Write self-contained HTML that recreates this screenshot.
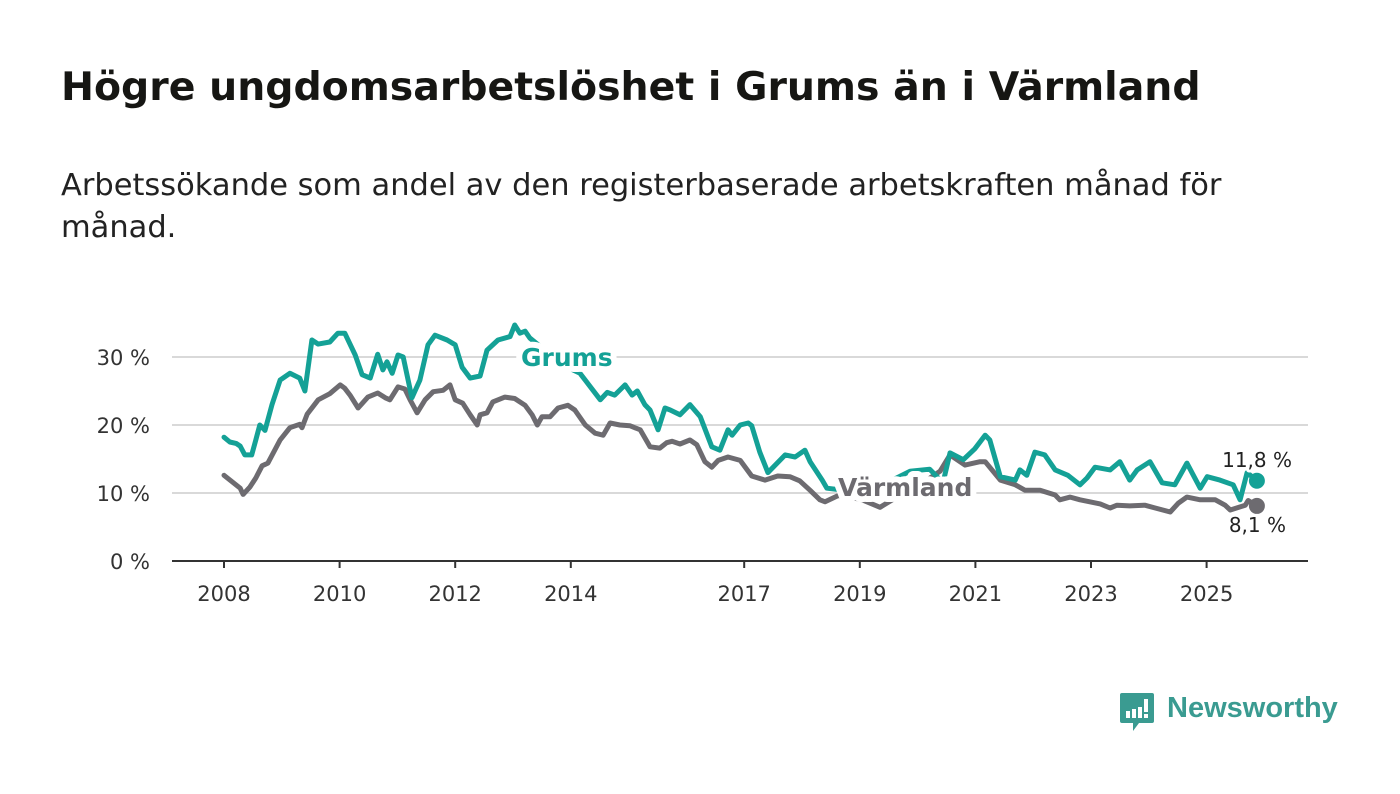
<!DOCTYPE html>
<html><head><meta charset="utf-8"><style>
body{margin:0;background:#fff;width:1400px;height:794px;overflow:hidden;font-family:"DejaVu Sans","Liberation Sans",sans-serif}
#title{position:absolute;left:61px;top:64px;font-size:38px;font-weight:bold;color:#161613;margin:0;white-space:nowrap}
.sub{position:absolute;left:61px;font-size:26px;color:#222;margin:0;white-space:nowrap}
svg{position:absolute;left:0;top:0}
</style></head><body>
<h1 id="title">Högre ungdomsarbetslöshet i Grums än i Värmland</h1>
<div>
<p class="sub" id="sub1" style="top:168px">Arbetssökande som andel av den registerbaserade arbetskraften månad för</p>
<p class="sub" id="sub2" style="top:210px">månad.</p>
</div>
<svg id="chart" width="1400" height="794"></svg>
<script>
const grumsT=[0,.10,.21,.28,.36,.48,.55,.62,.71,.83,.97,1.14,1.31,1.40,1.52,1.63,1.83,1.97,2.09,2.27,2.39,2.53,2.66,2.75,2.82,2.91,3.01,3.10,3.25,3.39,3.53,3.65,3.86,4.00,4.12,4.26,4.43,4.55,4.74,4.95,5.03,5.12,5.21,5.29,5.55,5.81,6.16,6.51,6.63,6.76,6.94,7.06,7.15,7.28,7.37,7.51,7.63,7.72,7.89,8.06,8.24,8.44,8.58,8.72,8.79,8.93,9.07,9.13,9.27,9.41,9.71,9.88,10.05,10.14,10.35,10.43,10.83,11.18,11.52,11.87,12.21,12.44,12.56,12.79,12.99,13.17,13.25,13.43,13.69,13.77,13.89,14.03,14.20,14.38,14.60,14.81,14.93,15.07,15.33,15.50,15.67,15.80,16.02,16.23,16.45,16.66,16.89,17.01,17.23,17.46,17.58,17.70,17.87];
const grumsV=[18.2,17.5,17.3,16.9,15.6,15.6,17.8,20,19.2,23,26.6,27.6,26.9,25,32.5,31.9,32.2,33.5,33.5,30.3,27.4,26.9,30.4,28.1,29.3,27.6,30.3,30,24,26.6,31.8,33.2,32.5,31.8,28.5,26.9,27.2,31,32.5,33,34.7,33.5,33.8,32.8,31,29,27.6,23.7,24.8,24.4,25.9,24.4,25,23,22.2,19.3,22.5,22.2,21.5,23,21.2,16.8,16.3,19.3,18.5,20,20.3,19.9,16,13,15.6,15.3,16.3,14.6,11.9,10.7,10.3,10.7,11.7,13.2,13.5,11.5,15.9,14.9,16.5,18.5,17.8,12.4,11.9,13.4,12.6,16,15.6,13.4,12.6,11.2,12.2,13.8,13.4,14.6,11.9,13.4,14.6,11.5,11.2,14.4,10.7,12.4,11.9,11.2,9,13,11.8];
const varmT=[0,.28,.33,.45,.55,.66,.76,.97,1.14,1.31,1.35,1.44,1.63,1.83,2.01,2.09,2.18,2.32,2.49,2.66,2.79,2.87,3.01,3.13,3.22,3.34,3.48,3.62,3.79,3.91,4.00,4.13,4.26,4.38,4.43,4.55,4.65,4.86,5.03,5.21,5.33,5.42,5.50,5.64,5.78,5.95,6.07,6.25,6.42,6.56,6.68,6.85,7.02,7.20,7.37,7.54,7.66,7.75,7.89,8.06,8.18,8.32,8.44,8.55,8.72,8.93,9.13,9.36,9.58,9.79,9.96,10.14,10.31,10.40,10.62,10.83,11.04,11.35,11.70,12.04,12.39,12.56,12.82,13.08,13.17,13.43,13.69,13.86,14.12,14.38,14.46,14.64,14.81,14.98,15.16,15.33,15.45,15.67,15.93,16.11,16.37,16.51,16.66,16.89,17.15,17.32,17.41,17.67,17.72,17.87];
const varmV=[12.6,10.7,9.8,10.9,12.2,14,14.4,17.8,19.6,20.1,19.6,21.6,23.7,24.6,25.9,25.4,24.4,22.5,24.1,24.7,24,23.7,25.6,25.3,23.7,21.8,23.7,24.9,25.1,25.9,23.7,23.2,21.5,20,21.5,21.8,23.4,24.1,23.9,22.9,21.5,20,21.2,21.2,22.5,22.9,22.2,20,18.8,18.5,20.3,20,19.9,19.3,16.8,16.6,17.4,17.6,17.2,17.8,17.1,14.6,13.8,14.8,15.3,14.8,12.5,11.9,12.5,12.4,11.8,10.4,9,8.7,9.6,9.4,9,7.9,9.7,11.2,13.2,15.6,14.1,14.6,14.6,11.9,11.2,10.4,10.4,9.7,9,9.4,9,8.7,8.4,7.8,8.2,8.1,8.2,7.8,7.2,8.5,9.4,9,9,8.2,7.5,8.2,8.9,8.1];
const yTicks=[0,10,20,30];
const yTickLabels=["0 %","10 %","20 %","30 %"];
const xTicks=[2008,2010,2012,2014,2017,2019,2021,2023,2025];

function fit(id,w){const e=document.getElementById(id);const fs=parseFloat(getComputedStyle(e).fontSize);e.style.fontSize=(fs*w/e.getBoundingClientRect().width)+'px';return fs*w/e.getBoundingClientRect().width;}
fit('title',1140);
const sfs=fit('sub1',1161);
document.getElementById('sub2').style.fontSize=document.getElementById('sub1').style.fontSize;

const NS="http://www.w3.org/2000/svg";
const FONT='DejaVu Sans, Liberation Sans, sans-serif';
const svg=document.getElementById('chart');
const X=t=>224+(t-2008)*57.8;
const Y=v=>561-v*6.8;
function mk(tag,attrs,parent){const e=document.createElementNS(NS,tag);for(const k in attrs)e.setAttribute(k,attrs[k]);(parent||svg).appendChild(e);return e;}
yTicks.forEach((v,i)=>{
  if(v>0){const g=mk('line',{x1:172,x2:1308,y1:Y(v),y2:Y(v),stroke:'#d9d9d9','stroke-width':2});
  
  }
  const t=mk('text',{x:150,y:Y(v)+8,'text-anchor':'end','font-size':21,fill:'#333','font-family':FONT});
  t.textContent=yTickLabels[i];
  
  
});
const ax=mk('line',{x1:172,x2:1308,y1:561,y2:561,stroke:'#333','stroke-width':2});


xTicks.forEach(yr=>{
  const x=X(yr);
  const tk=mk('line',{x1:x,x2:x,y1:561,y2:568,stroke:'#333','stroke-width':2});
  
  
  const t=mk('text',{x:x,y:601,'text-anchor':'middle','font-size':21,fill:'#333','font-family':FONT});
  t.textContent=yr;
  
  
});
function line(ts,vs,color,name){
  const d=ts.map((t,i)=>(i?'L':'M')+X(2008+t).toFixed(1)+','+Y(vs[i]).toFixed(1)).join('');
  const p=mk('path',{d:d,fill:'none',stroke:color,'stroke-width':5,'stroke-linejoin':'round','stroke-linecap':'round'});
  
  
  const n=ts.length-1;
  const c=mk('circle',{cx:X(2008+ts[n]),cy:Y(vs[n]),r:8,fill:color});
  
  
}
line(varmT,varmV,'#6d6b70','varmland-line');
line(grumsT,grumsV,'#14a196','grums-line');
function label(txt,x,y,color,size,bold,name,anchor){
  const t=mk('text',{x:x,y:y,'font-size':size,'font-weight':bold?'bold':'normal',fill:color,stroke:'#fff','stroke-width':bold?12:6,'paint-order':'stroke','stroke-linejoin':'round','text-anchor':anchor||'start','font-family':FONT});
  t.textContent=txt;
  
  
}
label('Grums',521,366,'#14a196',25,true,'grums-label');
label('Värmland',838,496,'#6d6b70',25,true,'varmland-label');
label('11,8 %',1292,467,'#222',20,false,'grums-end-value','end');
label('8,1 %',1286,532,'#222',20,false,'varmland-end-value','end');
</script>
<div style="position:absolute;left:1119px;top:691px;height:44px;">
<svg width="36" height="44" style="position:absolute;left:0;top:0"><path d="M3 2h30a2 2 0 0 1 2 2v26a2 2 0 0 1-2 2H20l-6 8v-8H3a2 2 0 0 1-2-2V4a2 2 0 0 1 2-2z" fill="#3a9b91"/><rect x="7" y="20" width="4" height="7" fill="#fff"/><rect x="13" y="18" width="4" height="9" fill="#fff"/><rect x="19" y="16" width="4" height="11" fill="#fff"/><rect x="25" y="8" width="4" height="13" fill="#fff"/><rect x="25" y="23" width="4" height="4" fill="#fff"/></svg>
<span style="position:absolute;left:48px;top:1px;font-family:'Liberation Sans',sans-serif;font-size:29px;font-weight:bold;color:#3a9b91;white-space:nowrap">Newsworthy</span>
</div>
</body></html>
